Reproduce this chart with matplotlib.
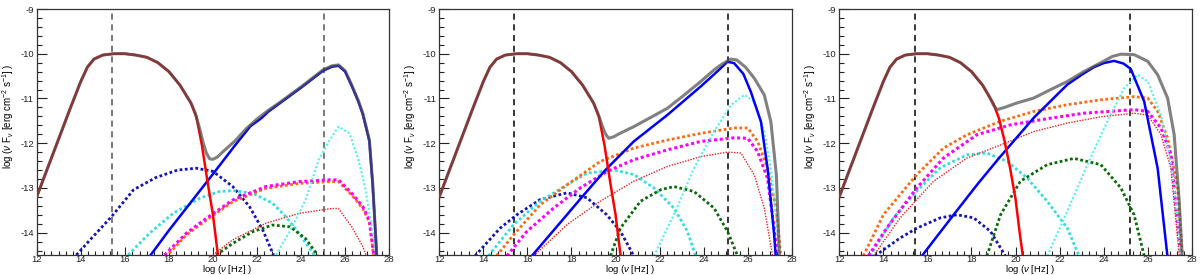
import matplotlib
matplotlib.use("Agg")
import matplotlib.pyplot as plt

plt.rcParams['font.family'] = ['Liberation Sans', 'DejaVu Sans']
plt.rcParams['axes.unicode_minus'] = False
plt.rcParams['mathtext.fontset'] = 'custom'
plt.rcParams['mathtext.rm'] = 'Liberation Sans'
plt.rcParams['mathtext.it'] = 'Liberation Sans:italic'

# ---------------- data (log nu [Hz], log nuFnu [erg cm-2 s-1]) ----------------
# synchrotron component (panels 1 & 2)
SYN_X = [12, 12.5, 13, 13.5, 14, 14.3, 14.6, 15, 15.5, 16, 16.5, 17, 17.5, 18, 18.5,
         19, 19.25, 19.5, 19.75, 20, 20.25]
SYN_Y = [-13.2, -12.55, -11.9, -11.25, -10.62, -10.3, -10.12, -10.03, -10.0, -10.0, -10.03,
         -10.08, -10.2, -10.4, -10.7, -11.1, -11.42, -12.05, -12.85, -13.6, -14.6]
# synchrotron tail for panel 3 (after 18.5)
SYN3_TX = [19, 19.25, 19.5, 19.75, 20, 20.2, 20.38]
SYN3_TY = [-11.12, -11.45, -11.95, -12.55, -13.25, -14.05, -14.7]

# total (gray) tails after synchrotron-dominated part
TOT1_TX = [19.2, 19.4, 19.55, 19.7, 19.85, 20.0, 20.2, 20.5, 21, 21.5, 22, 22.5, 23, 24,
           25, 25.4, 25.7, 26, 26.3, 26.6, 26.8, 27.1, 27.25, 27.4, 27.45]
TOT1_TY = [-11.33, -11.68, -11.98, -12.22, -12.35, -12.36, -12.31, -12.17, -11.95, -11.68,
           -11.46, -11.27, -11.1, -10.74, -10.36, -10.27, -10.25, -10.38, -10.7, -11.05,
           -11.33, -11.93, -12.9, -14.2, -14.7]
TOT2_TX = [19.2, 19.4, 19.55, 19.69, 19.9, 20.2, 20.83, 21.5, 22.35, 23.1, 23.87, 24.5, 24.78,
           25.23, 25.5, 25.9, 26.3, 26.75, 27.05, 27.3, 27.43, 27.46]
TOT2_TY = [-11.33, -11.62, -11.8, -11.89, -11.86, -11.78, -11.63, -11.45, -11.22, -10.93,
           -10.62, -10.35, -10.25, -10.12, -10.14, -10.3, -10.55, -10.92, -11.52, -12.71,
           -14.4, -14.7]
TOT3_TX = [18.8, 19.0, 19.16, 19.5, 20.07, 20.83, 21.6, 22.35, 23.1, 23.87, 24.4, 24.78,
           25.38, 26.0, 26.45, 26.9, 27.2, 27.43, 27.58]
TOT3_TY = [-10.95, -11.15, -11.25, -11.2, -11.1, -10.99, -10.8, -10.62, -10.4, -10.2,
           -10.06, -10.01, -10.02, -10.17, -10.47, -10.99, -11.81, -13.3, -14.7]

# SSC (blue solid)
B1_X = [17.1, 18, 19, 20, 21, 21.7, 22.2, 22.5, 23, 24, 25, 25.4, 25.7, 26, 26.3, 26.6,
        26.8, 27.1, 27.25, 27.4, 27.45]
B1_Y = [-14.55, -13.95, -13.32, -12.69, -12.05, -11.62, -11.44, -11.3, -11.12, -10.76,
        -10.38, -10.29, -10.27, -10.4, -10.72, -11.07, -11.35, -11.95, -12.92, -14.2, -14.7]
B2_X = [16.2, 17.5, 18.5, 19.54, 20.83, 22.35, 23.87, 24.5, 25.08, 25.38, 25.8, 26.14,
        26.6, 26.9, 27.2, 27.28]
B2_Y = [-14.52, -13.77, -13.19, -12.6, -11.96, -11.37, -10.73, -10.45, -10.18, -10.21,
        -10.45, -10.85, -11.52, -12.56, -14.05, -14.6]
B3_X = [15.75, 17.19, 18.3, 19.24, 20.83, 22.35, 23.0, 23.56, 24.0, 24.47, 24.9, 25.23,
        25.84, 26.45, 26.9]
B3_Y = [-14.52, -13.6, -12.9, -12.34, -11.43, -10.69, -10.47, -10.3, -10.21, -10.16,
        -10.22, -10.34, -11.07, -12.56, -14.55]

# navy dotted
N1_X = [13.8, 14.5, 15.4, 16.4, 17.4, 18.4, 19.25, 20.0, 20.9, 21.66, 22.26, 22.75]
N1_Y = [-14.5, -14.12, -13.64, -13.04, -12.77, -12.6, -12.56, -12.63, -12.97, -13.42,
        -13.94, -14.5]
N2_X = [13.62, 14.76, 15.52, 16.58, 17.8, 18.7, 19.6, 20.22, 20.83]
N2_Y = [-14.52, -13.9, -13.6, -13.26, -13.11, -13.22, -13.6, -13.97, -14.52]
N3_X = [13.62, 14.76, 15.52, 16.58, 17.34, 18.1, 18.86, 19.54]
N3_Y = [-14.52, -14.12, -13.9, -13.67, -13.6, -13.67, -13.97, -14.52]

# cyan dashed
C1_X = [16.15, 17.13, 18.19, 19.4, 20.3, 20.9, 21.8, 22.7, 23.3, 23.9, 24.6]
C1_Y = [-14.5, -14.01, -13.57, -13.23, -13.08, -13.06, -13.12, -13.34, -13.64, -14.01, -14.5]
C2_X = [14.23, 15.37, 16.58, 17.8, 18.7, 19.92, 20.83, 21.74, 22.65, 23.26, 23.64]
C2_Y = [-14.52, -13.82, -13.3, -12.93, -12.67, -12.6, -12.7, -13.0, -13.45, -13.97, -14.52]
C3_X = [13.4, 14.46, 15.52, 16.58, 17.8, 18.7, 19.62, 20.53, 21.44, 22.35, 22.88]
C3_Y = [-14.52, -13.67, -13.07, -12.55, -12.26, -12.22, -12.41, -12.78, -13.3, -13.9, -14.52]

# orange dotted
O1_X = [17.85, 18.8, 19.7, 20.9, 22.4, 23.9, 25.3, 25.7, 26.3, 26.8, 27.1, 27.3]
O1_Y = [-14.55, -14.05, -13.72, -13.31, -13.01, -12.9, -12.86, -12.86, -13.16, -13.46,
        -13.76, -14.55]
O2_X = [14.6, 15.37, 16.58, 17.8, 19.3, 20.83, 22.35, 23.87, 25.38, 26.0, 26.45, 26.9,
        27.28, 27.5]
O2_Y = [-14.52, -14.05, -13.38, -12.93, -12.41, -12.11, -11.93, -11.78, -11.66, -11.66,
        -11.96, -12.56, -13.45, -14.52]
O3_X = [13.09, 14.0, 15.52, 16.73, 17.8, 19.32, 20.83, 22.35, 23.87, 25.38, 26.0, 26.45,
        26.9, 27.36, 27.58]
O3_Y = [-14.52, -13.6, -12.7, -12.11, -11.81, -11.51, -11.29, -11.14, -11.03, -10.96,
        -10.99, -11.29, -11.88, -13.0, -14.52]

# magenta dotted
M1_X = [17.8, 18.8, 19.7, 20.9, 22.4, 23.9, 25.3, 25.7, 26.3, 26.8, 27.1, 27.3]
M1_Y = [-14.5, -14.01, -13.68, -13.27, -12.97, -12.86, -12.82, -12.82, -13.12, -13.42,
        -13.72, -14.5]
M2_X = [15.07, 15.98, 17.19, 18.4, 19.62, 20.83, 22.35, 23.87, 25.38, 26.0, 26.45, 26.9, 27.36]
M2_Y = [-14.52, -13.97, -13.45, -13.0, -12.63, -12.37, -12.15, -11.96, -11.88, -11.89,
        -12.19, -12.79, -14.52]
M3_X = [13.32, 14.15, 15.52, 16.73, 18.25, 19.77, 21.6, 23.1, 25.38, 26.0, 26.6, 27.05, 27.5]
M3_Y = [-14.52, -13.9, -13.0, -12.33, -11.81, -11.59, -11.44, -11.33, -11.25, -11.29,
        -11.66, -12.26, -14.52]

# red thin dotted
R1_X = [20.0, 20.9, 22.4, 23.9, 25.4, 25.7, 26.3, 26.8, 26.95]
R1_Y = [-14.5, -14.16, -13.79, -13.57, -13.46, -13.46, -13.87, -14.31, -14.5]
R2_X = [16.28, 17.8, 19.3, 20.83, 22.35, 23.87, 25.08, 25.69, 26.3, 26.75, 27.13]
R2_Y = [-14.52, -13.82, -13.3, -12.85, -12.52, -12.3, -12.2, -12.22, -12.71, -13.45, -14.52]
R3_X = [13.55, 14.76, 16.28, 17.8, 19.32, 20.83, 22.35, 23.87, 25.38, 26.0, 26.6, 27.05, 27.43]
R3_Y = [-14.52, -13.67, -12.85, -12.33, -12.04, -11.74, -11.55, -11.41, -11.33, -11.37,
        -11.81, -12.56, -14.52]

# dark green dotted
G1_X = [20.15, 20.9, 21.8, 22.7, 23.5, 24.2, 24.75]
G1_Y = [-14.5, -14.24, -13.98, -13.83, -13.87, -14.13, -14.5]
G2_X = [19.77, 20.22, 21.13, 22.05, 22.65, 23.56, 24.47, 25.08, 25.54]
G2_Y = [-14.52, -13.9, -13.3, -13.04, -12.97, -13.08, -13.45, -13.97, -14.52]
G3_X = [18.7, 19.32, 20.22, 21.44, 22.65, 23.87, 24.78, 25.38, 25.84]
G3_Y = [-14.52, -13.6, -12.85, -12.48, -12.34, -12.48, -13.0, -13.6, -14.52]

# light cyan dotted
L1_X = [22.87, 23.6, 24.2, 24.8, 25.3, 25.7, 26.2, 26.6, 26.9, 27.25, 27.4]
L1_Y = [-14.5, -13.87, -13.27, -12.37, -11.93, -11.63, -11.78, -12.37, -12.97, -14.01, -14.5]
L2_X = [21.74, 22.65, 23.56, 24.47, 25.23, 25.84, 26.3, 26.75, 27.05, 27.28, 27.43]
L2_Y = [-14.52, -13.6, -12.56, -11.74, -11.15, -10.92, -11.07, -11.74, -12.56, -13.6, -14.52]
L3_X = [21.44, 22.35, 23.26, 24.17, 24.93, 25.54, 26.0, 26.6, 27.05, 27.36, 27.5]
L3_Y = [-14.52, -13.52, -12.48, -11.51, -10.77, -10.47, -10.62, -11.37, -12.41, -13.67, -14.52]

# vertical reference lines
VL1 = [15.4, 25.06]
VL2 = [15.4, 25.12]
VL3 = [15.45, 25.2]

X_TICKS = [12, 14, 16, 18, 20, 22, 24, 26, 28]
Y_TICKS = [-9, -10, -11, -12, -13, -14]

# ---------------- figure ----------------
fig = plt.figure(figsize=(12, 2.75), dpi=100)
W, H = 1200.0, 275.0
ax_lefts = [36.7, 439.3, 839.3]
ax_w = 352.5
ax_top, ax_bot = 9.0, 255.0

syn1 = (SYN_X, SYN_Y)
k = SYN_X.index(19)
k3 = SYN_X.index(18.5)
syn3 = (SYN_X[:k3 + 1] + SYN3_TX, SYN_Y[:k3 + 1] + SYN3_TY)
tot1 = (SYN_X[:k + 1] + TOT1_TX, SYN_Y[:k + 1] + TOT1_TY)
tot2 = (SYN_X[:k + 1] + TOT2_TX, SYN_Y[:k + 1] + TOT2_TY)
tot3 = (SYN_X[:k3 + 1] + TOT3_TX, SYN_Y[:k3 + 1] + TOT3_TY)

panels = [
    dict(syn=syn1, tot=tot1, B=(B1_X, B1_Y), N=(N1_X, N1_Y), C=(C1_X, C1_Y), O=(O1_X, O1_Y),
         M=(M1_X, M1_Y), R=(R1_X, R1_Y), G=(G1_X, G1_Y), L=(L1_X, L1_Y), VL=VL1, vc='#555555'),
    dict(syn=syn1, tot=tot2, B=(B2_X, B2_Y), N=(N2_X, N2_Y), C=(C2_X, C2_Y), O=(O2_X, O2_Y),
         M=(M2_X, M2_Y), R=(R2_X, R2_Y), G=(G2_X, G2_Y), L=(L2_X, L2_Y), VL=VL2, vc='black'),
    dict(syn=syn3, tot=tot3, B=(B3_X, B3_Y), N=(N3_X, N3_Y), C=(C3_X, C3_Y), O=(O3_X, O3_Y),
         M=(M3_X, M3_Y), R=(R3_X, R3_Y), G=(G3_X, G3_Y), L=(L3_X, L3_Y), VL=VL3, vc='black'),
]

dot = (0, (1.0, 0.9))
for left, p in zip(ax_lefts, panels):
    ax = fig.add_axes([left / W, 1 - ax_bot / H, ax_w / W, (ax_bot - ax_top) / H])
    ax.set_xlim(12, 28)
    ax.set_ylim(-14.5, -9)
    for v in p['VL']:
        ax.axvline(v, color=p['vc'], lw=1.1, ls=(0, (4, 3)), zorder=1)
    ax.plot(*p['N'], color='#1515b5', lw=2.0, ls=dot, zorder=2)
    ax.plot(*p['C'], color='#33dede', lw=2.0, ls=dot, zorder=2)
    ax.plot(*p['O'], color='#ff6a10', lw=2.0, ls=dot, zorder=2)
    ax.plot(*p['M'], color='#ff00ff', lw=2.2, ls=dot, zorder=2)
    ax.plot(*p['R'], color='#ee2020', lw=1.0, ls=(0, (1, 1)), zorder=2)
    ax.plot(*p['G'], color='#0a6a0a', lw=2.0, ls=dot, zorder=2)
    ax.plot(*p['L'], color='#55f0f0', lw=1.5, ls=(0, (1, 1)), zorder=2)
    ax.plot(*p['B'], color='#0000ff', lw=1.8, zorder=3, solid_joinstyle='round')
    ax.plot(*p['syn'], color='#ff0000', lw=1.8, zorder=3, solid_joinstyle='round')
    ax.plot(*p['tot'], color='#505050', lw=2.2, alpha=0.72, zorder=4,
            solid_joinstyle='round')

    ax.set_xticks(X_TICKS)
    ax.set_xticklabels([str(t) for t in X_TICKS])
    ax.set_yticks(Y_TICKS)
    ax.set_yticklabels([str(t) for t in Y_TICKS])
    ax.set_xticks([12 + i / 3.0 for i in range(49)], minor=True)
    ax.set_yticks([-14.4 + 0.2 * i for i in range(28)], minor=True)
    ax.tick_params(which='both', direction='in', top=False, right=False,
                   labelsize=6.8, colors='#222222', width=0.8)
    ax.tick_params(axis='y', which='major', length=7, pad=2)
    ax.tick_params(axis='y', which='minor', length=3.5)
    ax.tick_params(axis='x', which='major', length=6, pad=0)
    ax.tick_params(axis='x', which='minor', length=3)
    for s in ax.spines.values():
        s.set_linewidth(0.9)
        s.set_color('#333333')

    ax.text(0.54, -0.058, r'log ($\nu$ [Hz] )', transform=ax.transAxes,
            ha='center', va='center', fontsize=6.8)
    fig.text((left - 29) / W, 1 - 116 / H,
             r'log ($\nu$ F$_{\nu}$ [erg cm$^{-2}$ s$^{-1}$] )',
             rotation=90, ha='center', va='center', fontsize=7.0)

fig.savefig('out.png', dpi=100)
